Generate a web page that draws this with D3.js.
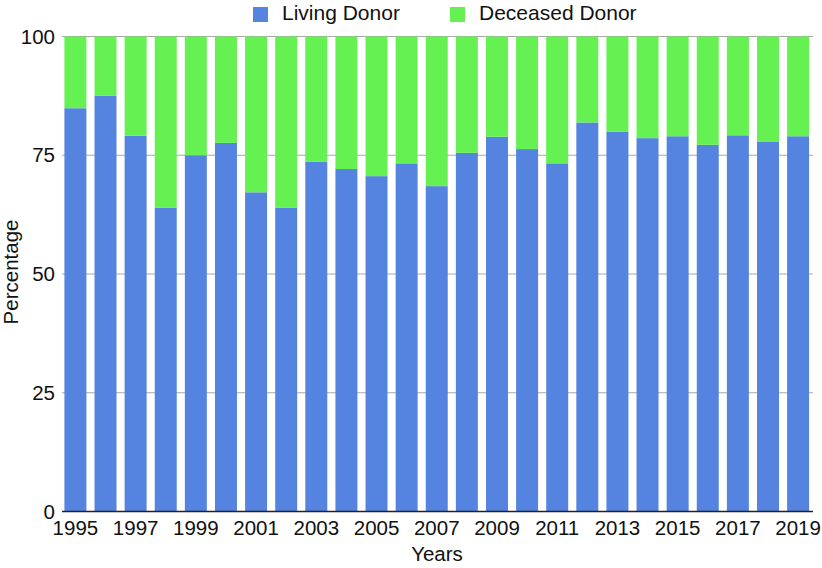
<!DOCTYPE html>
<html><head><meta charset="utf-8">
<script src="https://cdn.jsdelivr.net/npm/d3@7"></script>
<style>body{margin:0;background:#fff}svg{display:block}text{font-family:"Liberation Sans",Arial,Helvetica,sans-serif;fill:#111}</style>
</head><body><svg id="c" width="822" height="568"></svg>
<script>
const years = [1995,1996,1997,1998,1999,2000,2001,2002,2003,2004,2005,2006,2007,2008,2009,2010,2011,2012,2013,2014,2015,2016,2017,2018,2019];
const living = [84.9,87.5,79.1,64.0,75.0,77.6,67.2,64.0,73.6,72.1,70.6,73.3,68.5,75.5,78.9,76.3,73.3,81.9,80.0,78.6,79.0,77.2,79.2,77.8,79.0];
const deceased = living.map(v => 100 - v);
const yTicks = [0,25,50,75,100];
const xTickYears = years.filter((y,i) => i % 2 === 0);
const seriesNames = ["Living Donor","Deceased Donor"];
const colors = ["#5484e0","#66f152"];

const svg = d3.select("#c");
const L = 62, R = 811.5, T = 36.5, B = 511.5;
const x = d3.scaleBand().domain(years).range([L, R]).paddingInner(0.27).paddingOuter(0.08);
const y = d3.scaleLinear().domain([0,100]).range([B, T]);

svg.append("g").selectAll("line").data(yTicks.filter(d=>d>0)).join("line")
  .attr("x1", L).attr("x2", 813).attr("y1", d=>y(d)).attr("y2", d=>y(d))
  .attr("stroke", "#a8a8a8").attr("stroke-width", 1.2);

const data = years.map((yr,i)=>({yr, living: living[i], deceased: deceased[i]}));
const stack = d3.stack().keys(["living","deceased"])(data);
svg.append("g").selectAll("g").data(stack).join("g")
  .attr("fill", (d,i)=>colors[i])
  .selectAll("rect").data(d=>d).join("rect")
  .attr("x", d=>x(d.data.yr)).attr("width", x.bandwidth())
  .attr("y", d=>y(d[1])).attr("height", d=>y(d[0])-y(d[1]));

svg.append("line").attr("x1", L).attr("x2", 813).attr("y1", B).attr("y2", B).attr("stroke","#222").attr("stroke-width",1.3);

const yAxis = d3.axisLeft(y).tickValues(yTicks).tickSize(0).tickPadding(7);
const ga = svg.append("g").attr("transform", `translate(${L},0)`).call(yAxis);
ga.select(".domain").remove();
ga.selectAll("text").style("font-size","20.5px").attr("fill","#111").attr("font-family","Liberation Sans, Arial, sans-serif");

const xAxis = d3.axisBottom(x).tickValues(xTickYears).tickSize(0).tickPadding(9);
const gx = svg.append("g").attr("transform", `translate(0,${B})`).call(xAxis);
gx.select(".domain").remove();
gx.selectAll("text").style("font-size","20.5px").attr("fill","#111").attr("font-family","Liberation Sans, Arial, sans-serif");

svg.append("text").attr("x", 437).attr("y", 561).attr("text-anchor","middle").style("font-size","20.5px").text("Years");
svg.append("text").attr("transform","translate(18,272) rotate(-90)").attr("text-anchor","middle").style("font-size","20.5px").text("Percentage");

const legX = [253, 450];
const lg = svg.append("g").selectAll("g").data(seriesNames).join("g")
  .attr("transform", (d,i)=>`translate(${legX[i]},0)`);
lg.append("rect").attr("x",0).attr("y",7).attr("width",15).attr("height",15).attr("fill",(d,i)=>colors[i]);
lg.append("text").attr("x",29).attr("y",20).style("font-size","21px").text(d=>d);
</script></body></html>
